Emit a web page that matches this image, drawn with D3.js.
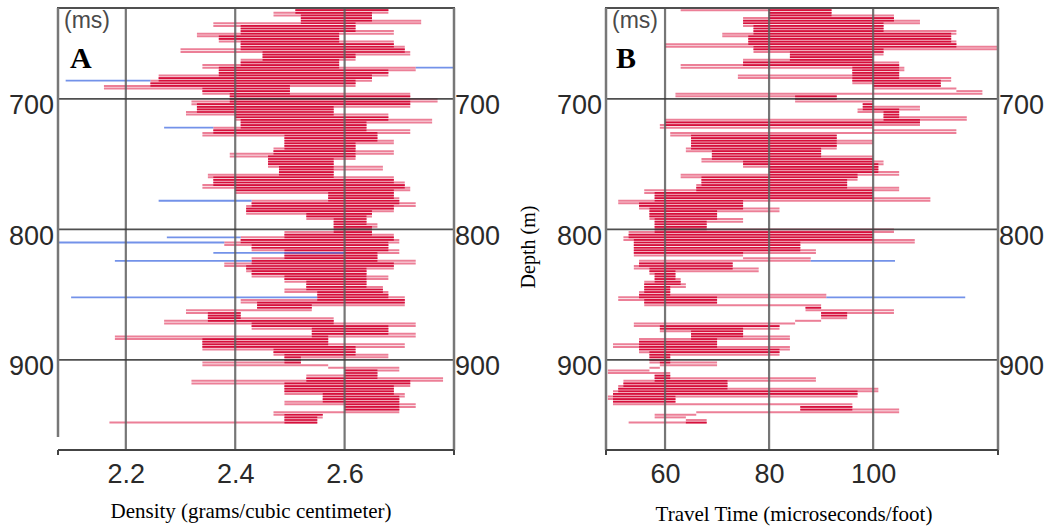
<!DOCTYPE html>
<html>
<head>
<meta charset="utf-8">
<script src="https://cdn.jsdelivr.net/npm/d3@7"></script>
<style>
body { margin: 0; background: #fff; }
svg { display: block; }
</style>
</head>
<body>
<script>
// sample depths (m), both logs share them
var depths = [
  632, 634, 636, 638, 640, 642, 644, 646, 648, 650,
  652, 654, 656, 658, 660, 662, 664, 666, 668, 670,
  672, 674, 676, 678, 680, 682, 684, 686, 688, 690,
  692, 694, 696, 698, 700, 702, 704, 706, 708, 710,
  712, 714, 716, 718, 720, 722, 724, 726, 728, 730,
  732, 734, 736, 738, 740, 742, 744, 746, 748, 750,
  752, 754, 756, 758, 760, 762, 764, 766, 768, 770,
  772, 774, 776, 778, 780, 782, 784, 786, 788, 790,
  792, 794, 796, 798, 800, 802, 804, 806, 808, 810,
  812, 814, 816, 818, 820, 822, 824, 826, 828, 830,
  832, 834, 836, 838, 840, 842, 844, 846, 848, 850,
  852, 854, 856, 858, 860, 862, 864, 866, 868, 870,
  872, 874, 876, 878, 880, 882, 884, 886, 888, 890,
  892, 894, 896, 898, 900, 902, 904, 906, 908, 910,
  912, 914, 916, 918, 920, 922, 924, 926, 928, 930,
  932, 934, 936, 938, 940, 942, 944, 946, 948, 950
];

// log A : density (g/cc)
var density = [
  2.51, 2.68, 2.47, 2.65, 2.52, 2.74, 2.36, 2.62, 2.41, 2.69,
  2.33, 2.59, 2.37, 2.69, 2.41, 2.71, 2.30, 2.72, 2.45, 2.62,
  2.41, 2.59, 2.34, 2.73, 2.37, 2.68, 2.26, 2.65, 2.245, 2.62,
  2.16, 2.50, 2.34, 2.72, 2.39, 2.77, 2.32, 2.72, 2.33, 2.58,
  2.31, 2.68, 2.40, 2.76, 2.41, 2.64, 2.36, 2.72, 2.34, 2.66,
  2.49, 2.69, 2.49, 2.62, 2.47, 2.69, 2.39, 2.62, 2.46, 2.58,
  2.46, 2.67, 2.48, 2.58, 2.35, 2.69, 2.36, 2.71, 2.34, 2.72,
  2.40, 2.69, 2.57, 2.70, 2.43, 2.73, 2.42, 2.69, 2.42, 2.65,
  2.53, 2.64, 2.58, 2.66, 2.58, 2.65, 2.49, 2.69, 2.41, 2.70,
  2.38, 2.68, 2.43, 2.70, 2.49, 2.66, 2.43, 2.73, 2.38, 2.69,
  2.42, 2.64, 2.43, 2.68, 2.49, 2.64, 2.53, 2.67, 2.49, 2.68,
  2.55, 2.71, 2.41, 2.71, 2.44, 2.54, 2.31, 2.41, 2.35, 2.58,
  2.27, 2.73, 2.43, 2.68, 2.54, 2.73, 2.18, 2.57, 2.34, 2.71,
  2.34, 2.62, 2.47, 2.68, 2.49, 2.52, 2.34, 2.57, 2.70, 2.60,
  2.66, 2.53, 2.78, 2.32, 2.72, 2.49, 2.69, 2.49, 2.71, 2.56,
  2.70, 2.49, 2.73, 2.60, 2.70, 2.47, 2.56, 2.49, 2.55, 2.17
];

// log B : sonic travel time (us/ft)
var travelTime = [
  63, 92, 80, 104, 75, 109, 75, 102, 77, 116,
  71, 115, 76, 116, 60, 124, 77, 102, 84, 100,
  75, 105, 63, 106, 96, 105, 74, 115, 96, 113,
  100, 116, 121, 62, 93, 85, 100, 98, 109, 97,
  105, 102, 118, 60, 109, 59, 100, 116, 61, 93,
  65, 100, 65, 93, 64, 90, 69, 100, 67, 102,
  75, 101, 80, 105, 63, 97, 67, 95, 66, 105,
  56, 100, 58, 111, 51, 75, 55, 82, 57, 70,
  57, 75, 58, 68, 58, 104, 53, 100, 52, 108,
  54, 86, 54, 89, 54, 75, 88, 55, 73, 54,
  78, 57, 62, 58, 63, 56, 64, 56, 61, 55,
  91, 51, 70, 56, 90, 87, 104, 90, 95, 90,
  85, 54, 82, 59, 75, 65, 84, 55, 70, 50,
  84, 55, 82, 57, 61, 57, 70, 59, 57, 49,
  61, 58, 89, 52, 72, 51, 101, 50, 97, 49,
  62, 50, 96, 86, 105, 66, 58, 64, 68, 53
];

// flagged (blue) excursions
var blueDepthA = [676, 686, 722, 778, 806, 810, 818, 824, 852];
var blueFromA  = [2.73, 2.09, 2.27, 2.26, 2.275, 2.076, 2.36, 2.18, 2.10];
var blueToA    = [2.80, 2.245, 2.36, 2.43, 2.41, 2.38, 2.60, 2.43, 2.55];
var blueDepthB = [824, 852];
var blueFromB  = [88, 91];
var blueToB    = [104.2, 117.7];

var densityTicks = [2.2, 2.4, 2.6];
var travelTicks = [60, 80, 100];
var depthTicks = [700, 800, 900];

var W = 1050, H = 529;
var plotTop = 8, plotBottom = 450;

var svg = d3.select("body").append("svg")
  .attr("width", W)
  .attr("height", H);
svg.append("rect").attr("width", W).attr("height", H).attr("fill", "#fff");

var y = d3.scaleLinear()
  .domain([630.3, 969])
  .range([plotTop, plotBottom]);

var panels = [
  { x: d3.scaleLinear().domain([2.076, 2.8]).range([58, 454]),
    values: density, ticks: densityTicks, fmt: d3.format(".1f"),
    bd: blueDepthA, bf: blueFromA, bt: blueToA,
    letter: "A", msX: 64, letterX: 70, leftEnd: 437,
    title: "Density (grams/cubic centimeter)", titleX: 251, titleY: 518 },
  { x: d3.scaleLinear().domain([48.65, 124]).range([606, 998]),
    values: travelTime, ticks: travelTicks, fmt: d3.format("d"),
    bd: blueDepthB, bf: blueFromB, bt: blueToB,
    letter: "B", msX: 612, letterX: 616, leftEnd: plotBottom,
    title: "Travel Time (microseconds/foot)", titleX: 794, titleY: 521 }
];

function drawPanel(p) {
  var x = p.x;
  var x0 = x.range()[0], x1 = x.range()[1];
  var g = svg.append("g");

  // horizontal pieces of the log trace
  var segs = [];
  for (var i = 0; i < depths.length - 1; i++) {
    segs.push({ d: depths[i],
      a: Math.min(p.values[i], p.values[i + 1]),
      b: Math.max(p.values[i], p.values[i + 1]) });
  }
  // part shared with both neighbours is drawn darker
  segs.forEach(function (s, i) {
    var lo = s.a, hi = s.b;
    if (i > 0) { lo = Math.max(lo, segs[i - 1].a); hi = Math.min(hi, segs[i - 1].b); }
    if (i < segs.length - 1) { lo = Math.max(lo, segs[i + 1].a); hi = Math.min(hi, segs[i + 1].b); }
    s.lo = lo; s.hi = hi;
  });

  g.selectAll("line.light")
    .data(segs)
    .enter().append("line")
    .attr("class", "light")
    .attr("x1", function (s) { return x(s.a); })
    .attr("x2", function (s) { return x(s.b); })
    .attr("y1", function (s) { return y(s.d); })
    .attr("y2", function (s) { return y(s.d); })
    .attr("stroke", "#ec7f97")
    .attr("stroke-width", 2);

  g.selectAll("line.dark")
    .data(segs.filter(function (s) { return s.hi > s.lo; }))
    .enter().append("line")
    .attr("class", "dark")
    .attr("x1", function (s) { return x(s.lo); })
    .attr("x2", function (s) { return x(s.hi); })
    .attr("y1", function (s) { return y(s.d); })
    .attr("y2", function (s) { return y(s.d); })
    .attr("stroke", "#d5103c")
    .attr("stroke-width", 1.7);

  g.selectAll("line.flag")
    .data(p.bd)
    .enter().append("line")
    .attr("class", "flag")
    .attr("x1", function (d, i) { return x(p.bf[i]); })
    .attr("x2", function (d, i) { return x(p.bt[i]); })
    .attr("y1", function (d) { return y(d); })
    .attr("y2", function (d) { return y(d); })
    .attr("stroke", "#5077e4")
    .attr("stroke-opacity", 0.8)
    .attr("stroke-width", 1.8);

  // grid, on top of the trace
  g.selectAll("line.vgrid")
    .data(p.ticks)
    .enter().append("line")
    .attr("x1", function (d) { return x(d); })
    .attr("x2", function (d) { return x(d); })
    .attr("y1", plotTop).attr("y2", plotBottom)
    .attr("stroke", "#5e5e5e").attr("stroke-opacity", 0.85)
    .attr("stroke-width", 2.2);

  g.selectAll("line.hgrid")
    .data(depthTicks)
    .enter().append("line")
    .attr("x1", x0).attr("x2", x1)
    .attr("y1", function (d) { return y(d); })
    .attr("y2", function (d) { return y(d); })
    .attr("stroke", "#3c3c3c").attr("stroke-opacity", 0.9)
    .attr("stroke-width", 1.8);

  // frame
  g.append("line").attr("x1", x0 - 1).attr("x2", x1 + 1)
    .attr("y1", plotTop).attr("y2", plotTop)
    .attr("stroke", "#505050").attr("stroke-width", 2);
  g.append("line").attr("x1", x0).attr("x2", x0)
    .attr("y1", plotTop).attr("y2", p.leftEnd)
    .attr("stroke", "#777").attr("stroke-width", 2.5);
  g.append("line").attr("x1", x1).attr("x2", x1)
    .attr("y1", plotTop).attr("y2", plotBottom)
    .attr("stroke", "#777").attr("stroke-width", 2.5);
  g.append("line").attr("x1", x0).attr("x2", x1)
    .attr("y1", plotBottom).attr("y2", plotBottom)
    .attr("stroke", "#444").attr("stroke-width", 2);
  [x0, x1].forEach(function (xx) {
    g.append("line").attr("x1", xx).attr("x2", xx)
      .attr("y1", plotBottom).attr("y2", plotBottom + 5)
      .attr("stroke", "#444").attr("stroke-width", 2);
  });

  // tick labels
  var bx = g.append("g")
    .attr("transform", "translate(0," + plotBottom + ")")
    .call(d3.axisBottom(x).tickValues(p.ticks).tickFormat(p.fmt).tickSize(0));
  bx.select(".domain").remove();
  bx.selectAll("text").attr("y", 0).attr("dy", 33);

  var ly = g.append("g")
    .attr("transform", "translate(" + x0 + ",0)")
    .call(d3.axisLeft(y).tickValues(depthTicks).tickSize(0).tickPadding(4));
  ly.select(".domain").remove();
  ly.selectAll("text").attr("dy", 15);

  var ry = g.append("g")
    .attr("transform", "translate(" + x1 + ",0)")
    .call(d3.axisRight(y).tickValues(depthTicks).tickSize(0).tickPadding(1));
  ry.select(".domain").remove();
  ry.selectAll("text").attr("dy", 15);

  g.selectAll(".tick text")
    .attr("font-family", "'Liberation Sans', Arial, sans-serif")
    .attr("font-size", 27)
    .attr("fill", "#2a2a2a");

  g.append("text")
    .attr("x", p.msX).attr("y", 28)
    .attr("font-family", "'Liberation Sans', Arial, sans-serif")
    .attr("font-size", 23)
    .attr("fill", "#4a4a4a")
    .text("(ms)");

  g.append("text")
    .attr("x", p.letterX).attr("y", 68)
    .attr("font-family", "'Liberation Serif', 'Times New Roman', serif")
    .attr("font-weight", "bold")
    .attr("font-size", 30)
    .attr("fill", "#000")
    .text(p.letter);

  g.append("text")
    .attr("x", p.titleX).attr("y", p.titleY)
    .attr("text-anchor", "middle")
    .attr("font-family", "'Liberation Serif', 'Times New Roman', serif")
    .attr("font-size", 21)
    .attr("fill", "#000")
    .text(p.title);
}

panels.forEach(drawPanel);

svg.append("text")
  .attr("transform", "translate(535,247) rotate(-90)")
  .attr("text-anchor", "middle")
  .attr("font-family", "'Liberation Serif', 'Times New Roman', serif")
  .attr("font-size", 20)
  .attr("fill", "#000")
  .text("Depth (m)");
</script>
</body>
</html>
